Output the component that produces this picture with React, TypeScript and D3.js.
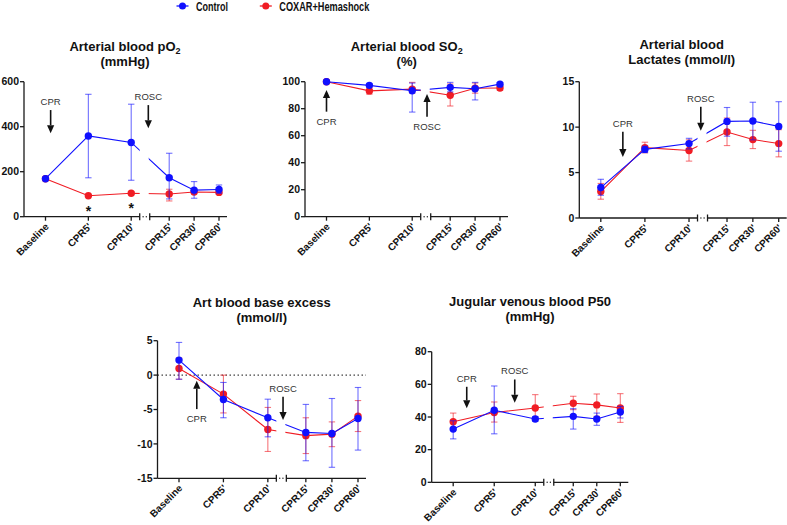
import React from "react";
import * as d3 from "d3";

// ---------- DATA ----------
const categories = ["Baseline", "CPR5'", "CPR10'", "CPR15'", "CPR30'", "CPR60'"];
const leftCats = categories.slice(0, 3);
const rightCats = categories.slice(3);

const seriesNames = ["Control", "COXAR+Hemashock"];

// Arterial blood pO2 (mmHg)
const po2ControlMean = [169, 359, 330, 173, 118, 121];
const po2ControlLo = [169, 173, 162, 79, 82, 104];
const po2ControlHi = [169, 544, 500, 282, 156, 141];
const po2CoxarMean = [169, 93, 104, 101, 110, 108];
const po2CoxarLo = [169, 90, 98, 70, 102, 100];
const po2CoxarHi = [169, 96, 110, 122, 118, 115];
const po2Significance = ["", "*", "*", "", "", ""];
const po2Ticks = [0, 200, 400, 600];

// Arterial blood SO2 (%)
const so2ControlMean = [100, 97.3, 93.3, 95.8, 94.8, 98.2];
const so2ControlLo = [100, 96, 77.5, 92.5, 86.5, 97];
const so2ControlHi = [100, 98.5, 99, 99.5, 99.5, 99.3];
const so2CoxarMean = [100, 93.2, 94.5, 90, 95.2, 95.3];
const so2CoxarLo = [100, 90.8, 91.5, 82, 91.5, 93.5];
const so2CoxarHi = [100, 95.3, 99.5, 98.3, 99, 96.8];
const so2Ticks = [0, 20, 40, 60, 80, 100];

// Arterial blood lactates (mmol/l)
const lacControlMean = [3.35, 7.55, 8.19, 10.63, 10.67, 10.08];
const lacControlLo = [2.5, 7.2, 7.6, 9.0, 8.6, 7.35];
const lacControlHi = [4.26, 7.9, 8.77, 12.16, 12.74, 12.8];
const lacCoxarMean = [2.91, 7.75, 7.43, 9.46, 8.63, 8.19];
const lacCoxarLo = [2.07, 7.17, 6.26, 7.97, 7.64, 6.73];
const lacCoxarHi = [3.8, 8.34, 8.6, 11.0, 9.65, 9.72];
const lacTicks = [0, 5, 10, 15];

// Arterial blood base excess (mmol/l)
const beControlMean = [2.18, -3.54, -6.2, -8.33, -8.48, -6.3];
const beControlLo = [-0.6, -6.2, -8.97, -12.45, -13.4, -10.9];
const beControlHi = [4.75, -1.07, -3.5, -4.26, -3.4, -1.8];
const beCoxarMean = [0.97, -2.76, -7.9, -8.8, -8.58, -5.96];
const beCoxarLo = [-0.6, -5.5, -11.1, -11.4, -10.4, -8.2];
const beCoxarHi = [2.5, 0, -4.7, -6.2, -6.8, -3.7];
const beTicks = [-15, -10, -5, 0, 5];

// Jugular venous blood P50 (mmHg)
const p50ControlMean = [32.6, 44.1, 38.8, 40.4, 38.8, 43.1];
const p50ControlLo = [26.6, 29.7, 37.3, 32.6, 34.9, 39.4];
const p50ControlHi = [37.7, 59, 40.3, 45.1, 42.4, 46.5];
const p50CoxarMean = [37.1, 42.8, 45.5, 48.4, 47.4, 45.5];
const p50CoxarLo = [32.2, 36.9, 38.3, 44.5, 40.4, 36.7];
const p50CoxarHi = [42.4, 49.2, 53.7, 52.7, 54.1, 54.3];
const p50Ticks = [0, 20, 40, 60, 80];

// ---------- STYLE ----------
const BLUE = "#1010ff";
const RED = "#f01c24";
const AXIS = "#1a1a1a";
const FONT = "'Liberation Sans', Arial, Helvetica, sans-serif";

type Series = { mean: number[]; lo: number[]; hi: number[] };
type Arrow = { label: string; at: number; from: number; to: number };

type PanelDef = {
  id: string;
  title: React.ReactNode[];
  titleX: number;
  titleY: number;
  x0: number;
  x1: number;
  yTop: number;
  yBottom: number;
  domain: [number, number];
  ticks: number[];
  control: Series;
  coxar: Series;
  arrows: Arrow[];
  sig?: string[];
  zeroLine?: boolean;
};

const panels: PanelDef[] = [
  {
    id: "po2",
    title: [
      <tspan key="a">Arterial blood pO<tspan fontSize="9" dy="3">2</tspan></tspan>,
      <tspan key="b">(mmHg)</tspan>,
    ],
    titleX: 125,
    titleY: 51,
    x0: 24,
    x1: 227,
    yTop: 81.7,
    yBottom: 216.7,
    domain: [0, 600],
    ticks: po2Ticks,
    control: { mean: po2ControlMean, lo: po2ControlLo, hi: po2ControlHi },
    coxar: { mean: po2CoxarMean, lo: po2CoxarLo, hi: po2CoxarHi },
    arrows: [
      { label: "CPR", at: 0.12, from: 474, to: 371 },
      { label: "ROSC", at: 2.45, from: 496, to: 393 },
    ],
    sig: po2Significance,
  },
  {
    id: "so2",
    title: [
      <tspan key="a">Arterial blood SO<tspan fontSize="9" dy="3">2</tspan></tspan>,
      <tspan key="b">(%)</tspan>,
    ],
    titleX: 406.7,
    titleY: 51,
    x0: 305,
    x1: 508,
    yTop: 81.7,
    yBottom: 216.7,
    domain: [0, 100],
    ticks: so2Ticks,
    control: { mean: so2ControlMean, lo: so2ControlLo, hi: so2ControlHi },
    coxar: { mean: so2CoxarMean, lo: so2CoxarLo, hi: so2CoxarHi },
    arrows: [
      { label: "CPR", at: 0, from: 77.8, to: 93.9 },
      { label: "ROSC", at: 2.39, from: 74, to: 90.9 },
    ],
  },
  {
    id: "lac",
    title: [<tspan key="a">Arterial blood</tspan>, <tspan key="b">Lactates (mmol/l)</tspan>],
    titleX: 681.7,
    titleY: 49,
    x0: 579.3,
    x1: 786.7,
    yTop: 81.7,
    yBottom: 218,
    domain: [0, 15],
    ticks: lacTicks,
    control: { mean: lacControlMean, lo: lacControlLo, hi: lacControlHi },
    coxar: { mean: lacCoxarMean, lo: lacCoxarLo, hi: lacCoxarHi },
    arrows: [
      { label: "CPR", at: 0.5, from: 9.48, to: 6.72 },
      { label: "ROSC", at: 2.31, from: 12.24, to: 9.59 },
    ],
  },
  {
    id: "be",
    title: [<tspan key="a">Art blood base excess</tspan>, <tspan key="b">(mmol/l)</tspan>],
    titleX: 261.7,
    titleY: 307,
    x0: 157.5,
    x1: 366,
    yTop: 340.7,
    yBottom: 478.3,
    domain: [-15, 5],
    ticks: beTicks,
    control: { mean: beControlMean, lo: beControlLo, hi: beControlHi },
    coxar: { mean: beCoxarMean, lo: beCoxarLo, hi: beCoxarHi },
    arrows: [
      { label: "CPR", at: 0.4, from: -4.94, to: -0.83 },
      { label: "ROSC", at: 2.4, from: -3.15, to: -6.54 },
    ],
    zeroLine: true,
  },
  {
    id: "p50",
    title: [<tspan key="a">Jugular venous blood P50</tspan>, <tspan key="b">(mmHg)</tspan>],
    titleX: 530,
    titleY: 306,
    x0: 431.7,
    x1: 628.3,
    yTop: 351.7,
    yBottom: 482.3,
    domain: [0, 80],
    ticks: p50Ticks,
    control: { mean: p50ControlMean, lo: p50ControlLo, hi: p50ControlHi },
    coxar: { mean: p50CoxarMean, lo: p50CoxarLo, hi: p50CoxarHi },
    arrows: [
      { label: "CPR", at: 0.33, from: 58.5, to: 45.3 },
      { label: "ROSC", at: 1.5, from: 63, to: 48.7 },
    ],
  },
];

function Panel({ p }: { p: PanelDef }) {
  const w = p.x1 - p.x0;
  const leftEnd = p.x0 + 0.57 * w;
  const rightStart = leftEnd + 10;
  const xLeft = d3.scalePoint<string>().domain(leftCats).range([p.x0 + 21.5, leftEnd - 8.5]);
  const xRight = d3.scalePoint<string>().domain(rightCats).range([rightStart + 19.5, p.x1 - 8]);
  const xCat = (i: number) => (i < 3 ? (xLeft(categories[i]) as number) : (xRight(categories[i]) as number));
  const xAt = (f: number) => {
    const a = Math.floor(f);
    const b = Math.min(a + 1, categories.length - 1);
    const t = f - a;
    return xCat(a) * (1 - t) + xCat(b) * t;
  };
  const y = d3.scaleLinear().domain(p.domain).range([p.yBottom, p.yTop]);
  const line = d3
    .line<number>()
    .x((_, i) => xCat(i))
    .y((d) => y(d));
  const clipId = `clip-${p.id}`;

  const renderSeries = (s: Series, color: string) => (
    <g>
      <path d={line(s.mean) || ""} fill="none" stroke={color} strokeWidth={1.1} clipPath={`url(#${clipId})`} />
      {s.mean.map((m, i) => {
        const x = xCat(i);
        if (s.lo[i] === s.hi[i]) return null;
        return (
          <g key={i} stroke={color} strokeOpacity={0.6} strokeWidth={1.1}>
            <line x1={x} x2={x} y1={y(s.lo[i])} y2={y(s.hi[i])} />
            <line x1={x - 3.2} x2={x + 3.2} y1={y(s.lo[i])} y2={y(s.lo[i])} />
            <line x1={x - 3.2} x2={x + 3.2} y1={y(s.hi[i])} y2={y(s.hi[i])} />
          </g>
        );
      })}
      {s.mean.map((m, i) => (
        <circle key={i} cx={xCat(i)} cy={y(m)} r={3.7} fill={color} />
      ))}
    </g>
  );

  return (
    <g>
      <defs>
        <clipPath id={clipId}>
          <rect x={0} y={0} width={leftEnd} height={525} />
          <rect x={rightStart - 1} y={0} width={787} height={525} />
        </clipPath>
      </defs>
      {/* title */}
      <text x={p.titleX} y={p.titleY} textAnchor="middle" fontWeight="bold" fontSize={13} fill="#111">
        {p.title[0]}
      </text>
      <text x={p.titleX} y={p.titleY + 15} textAnchor="middle" fontWeight="bold" fontSize={13} fill="#111">
        {p.title[1]}
      </text>
      {/* y axis */}
      <line x1={p.x0} x2={p.x0} y1={p.yTop} y2={p.yBottom} stroke={AXIS} strokeWidth={1.3} />
      {p.ticks.map((t) => (
        <g key={t}>
          <line x1={p.x0 - 4} x2={p.x0} y1={y(t)} y2={y(t)} stroke={AXIS} strokeWidth={1.3} />
          <text x={p.x0 - 5} y={y(t)} dy="0.36em" textAnchor="end" fontWeight="bold" fontSize={10.5} fill="#111">
            {String(t)}
          </text>
        </g>
      ))}
      {p.zeroLine && (
        <line
          x1={p.x0}
          x2={p.x1}
          y1={y(0)}
          y2={y(0)}
          stroke="#111"
          strokeWidth={1}
          strokeDasharray="1.5,2.5"
        />
      )}
      {/* x axis with break */}
      <g stroke={AXIS} strokeWidth={1.3}>
        <line x1={p.x0} x2={leftEnd} y1={p.yBottom} y2={p.yBottom} />
        <line x1={leftEnd} x2={leftEnd} y1={p.yBottom - 3.5} y2={p.yBottom + 3.5} />
        <line x1={rightStart} x2={rightStart} y1={p.yBottom - 3.5} y2={p.yBottom + 3.5} />
        <line x1={rightStart} x2={p.x1} y1={p.yBottom} y2={p.yBottom} />
      </g>
      <circle cx={leftEnd + 3.4} cy={p.yBottom} r={0.7} fill={AXIS} />
      <circle cx={leftEnd + 6.6} cy={p.yBottom} r={0.7} fill={AXIS} />
      {categories.map((c, i) => (
        <g key={c}>
          <line x1={xCat(i)} x2={xCat(i)} y1={p.yBottom} y2={p.yBottom + 4} stroke={AXIS} strokeWidth={1.3} />
          <text
            transform={`translate(${xCat(i) + 4},${p.yBottom + 10.5}) rotate(-45)`}
            textAnchor="end"
            fontWeight="bold"
            fontSize={10}
            fill="#111"
          >
            {c}
          </text>
        </g>
      ))}
      {/* arrows */}
      {p.arrows.map((a) => {
        const ax = xAt(a.at);
        const y1 = y(a.from);
        const y2 = y(a.to);
        const dir = y2 > y1 ? 1 : -1;
        const headLen = 8;
        const labelY = dir > 0 ? y1 - 5 : y1 + 13;
        return (
          <g key={a.label}>
            <line x1={ax} x2={ax} y1={y1} y2={y2 - dir * headLen} stroke="#111" strokeWidth={1.6} />
            <path
              d={`M${ax - 3.6},${y2 - dir * headLen} L${ax + 3.6},${y2 - dir * headLen} L${ax},${y2} Z`}
              fill="#111"
            />
            <text x={ax} y={labelY} textAnchor="middle" fontSize={9.5} fill="#333">
              {a.label}
            </text>
          </g>
        );
      })}
      {renderSeries(p.coxar, RED)}
      {renderSeries(p.control, BLUE)}
      {p.sig &&
        p.sig.map((s, i) =>
          s ? (
            <text key={i} x={xCat(i)} y={y(p.coxar.mean[i]) + 20} textAnchor="middle" fontWeight="bold" fontSize={14} fill="#111">
              {s}
            </text>
          ) : null
        )}
    </g>
  );
}

export default function App() {
  const legendColors = [BLUE, RED];
  const legendX = [182.5, 265.8];
  const legendLen = [32, 90];
  return (
    <svg
      width={787}
      height={525}
      style={{ position: "absolute", left: 0, top: 0, background: "#fff" }}
      fontFamily={FONT}
    >
      <rect x={0} y={0} width={787} height={525} fill="#fff" />
      {seriesNames.map((n, i) => (
        <g key={n}>
          <line x1={legendX[i] - 6} x2={legendX[i] + 6} y1={6} y2={6} stroke={legendColors[i]} strokeWidth={1.3} />
          <circle cx={legendX[i]} cy={6} r={3.5} fill={legendColors[i]} />
          <text
            x={legendX[i] + 13.5}
            y={11}
            fontSize={13.5}
            fontWeight="bold"
            fill="#111"
            textLength={legendLen[i]}
            lengthAdjust="spacingAndGlyphs"
          >
            {n}
          </text>
        </g>
      ))}
      {panels.map((p) => (
        <Panel key={p.id} p={p} />
      ))}
    </svg>
  );
}
